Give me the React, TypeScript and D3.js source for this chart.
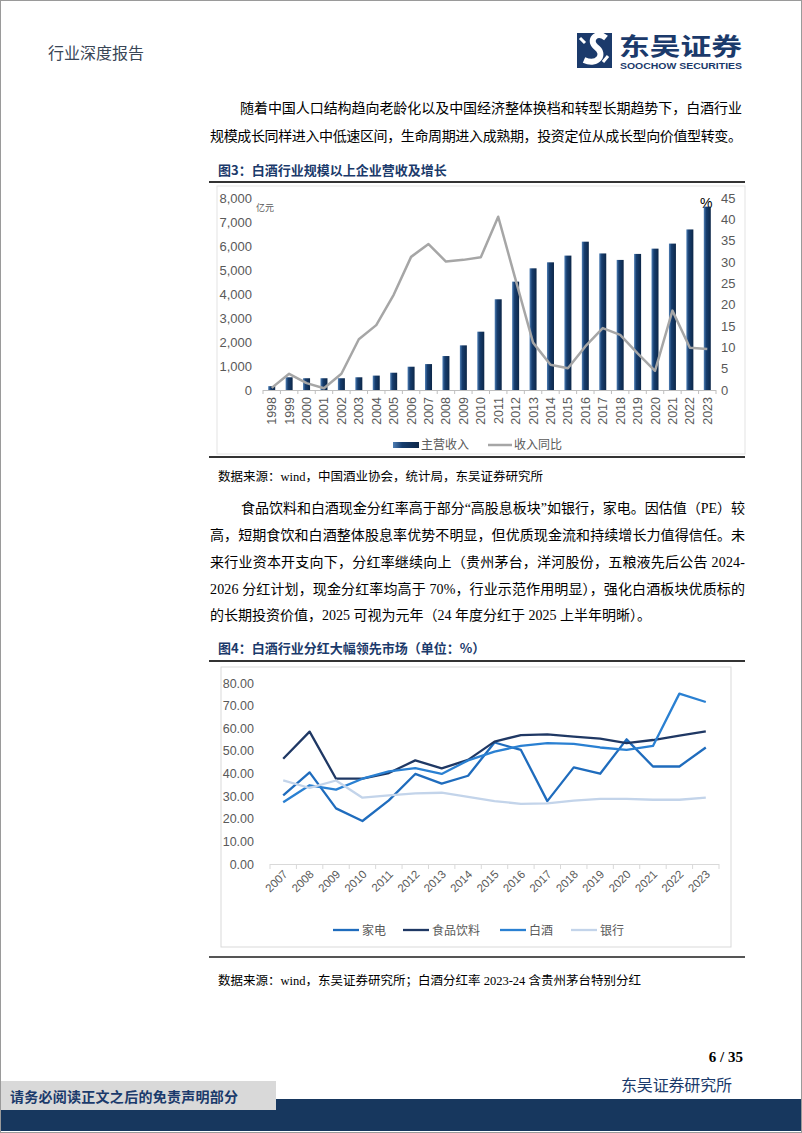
import React from 'react';
import * as d3 from 'd3';

// ---------- Data: 图3 ----------
const years3 = ['1998','1999','2000','2001','2002','2003','2004','2005','2006','2007','2008','2009','2010','2011','2012','2013','2014','2015','2016','2017','2018','2019','2020','2021','2022','2023'];
const revenue = [160, 530, 490, 490, 490, 530, 600, 720, 970, 1080, 1415, 1860, 2430, 3780, 4515, 5070, 5320, 5600, 6180, 5690, 5420, 5670, 5890, 6100, 6690, 7640];
const growth = [0.5, 3.8, 1.6, 0.4, 3.8, 11.9, 15.2, 22.3, 31.2, 34.2, 30.1, 30.5, 31.1, 40.6, 25.8, 11.1, 5.9, 5.1, 10.2, 14.5, 12.9, 8.6, 4.5, 18.6, 9.9, 9.6];
const leftTicks3 = [0, 1000, 2000, 3000, 4000, 5000, 6000, 7000, 8000];
const rightTicks3 = [0, 5, 10, 15, 20, 25, 30, 35, 40, 45];

// ---------- Data: 图4 ----------
const years4 = ['2007','2008','2009','2010','2011','2012','2013','2014','2015','2016','2017','2018','2019','2020','2021','2022','2023'];
const jiadian = [30.3, 40.5, 24.6, 19.0, 28.1, 39.8, 35.5, 39.0, 53.7, 50.4, 27.8, 42.7, 39.9, 55.1, 43.1, 43.1, 51.5];
const shipin = [46.5, 58.5, 37.7, 37.7, 40.2, 45.8, 42.3, 46.0, 54.1, 57.0, 57.3, 56.3, 55.4, 53.4, 54.8, 56.7, 58.6];
const baijiu = [27.3, 34.8, 32.9, 37.7, 40.9, 42.4, 39.8, 45.8, 49.7, 52.2, 53.4, 53.1, 51.5, 50.4, 52.2, 75.3, 71.6];
const yinhang = [37.0, 33.6, 36.9, 29.3, 30.3, 31.2, 31.5, 29.7, 27.8, 26.6, 26.8, 28.0, 28.8, 28.8, 28.4, 28.4, 29.3];
const yTicks4 = [0, 10, 20, 30, 40, 50, 60, 70, 80];
const series4 = [
  { name: '家电', values: jiadian, color: '#1f6cbd' },
  { name: '食品饮料', values: shipin, color: '#1f3864' },
  { name: '白酒', values: baijiu, color: '#2a80d2' },
  { name: '银行', values: yinhang, color: '#c3d4ea' },
];

const CJK = '"Noto Sans CJK SC", "Noto Sans CJK JP", sans-serif';
const BODY = '"Liberation Serif", "Noto Sans CJK SC", serif';
const AX = '"Liberation Sans", Arial, sans-serif';
const NAVY = '#1b3a6b';

const para1 = [
  { t: '随着中国人口结构趋向老龄化以及中国经济整体换档和转型长期趋势下，白酒行业', x: 240, y: 113, w: 502 },
  { t: '规模成长同样进入中低速区间，生命周期进入成熟期，投资定位从成长型向价值型转变。', x: 210, y: 141, w: 532 },
];
const para2 = [
  { t: '食品饮料和白酒现金分红率高于部分“高股息板块”如银行，家电。因估值（PE）较', x: 241, y: 513, w: 504 },
  { t: '高，短期食饮和白酒整体股息率优势不明显，但优质现金流和持续增长力值得信任。未', x: 210, y: 540, w: 535 },
  { t: '来行业资本开支向下，分红率继续向上（贵州茅台，洋河股份，五粮液先后公告 2024-', x: 210, y: 567, w: 535 },
  { t: '2026 分红计划，现金分红率均高于 70%，行业示范作用明显），强化白酒板块优质标的', x: 210, y: 594, w: 535 },
  { t: '的长期投资价值，2025 可视为元年（24 年度分红于 2025 上半年明晰）。', x: 210, y: 620, w: 0 },
];

function Chart3() {
  const x = d3.scaleBand<string>().domain(years3).range([263, 716]);
  const yL = d3.scaleLinear().domain([0, 8000]).range([390, 198]);
  const yR = d3.scaleLinear().domain([0, 45]).range([390, 198]);
  const cx = (i: number) => (x(years3[i]) as number) + x.bandwidth() / 2;
  const line = d3.line<number>().x((d, i) => cx(i)).y(d => yR(d));
  const bw = 7;
  return (
    <g>
      <defs>
        <linearGradient id="barg" x1="0" x2="1" y1="0" y2="0">
          <stop offset="0" stopColor="#4f7fb5" />
          <stop offset="0.35" stopColor="#163d6e" />
          <stop offset="1" stopColor="#0d2748" />
        </linearGradient>
      </defs>
      <rect x={217} y={186} width={528} height={268} fill="none" stroke="#e3e3e3" strokeWidth={1} />
      {leftTicks3.map(t => (
        <text key={'l' + t} x={252} y={yL(t) + 4.5} textAnchor="end" fontFamily={AX} fontSize={13} fill="#595959">{d3.format(',')(t)}</text>
      ))}
      {rightTicks3.map(t => (
        <text key={'r' + t} x={721} y={yR(t) + 4.5} textAnchor="start" fontFamily={AX} fontSize={13} fill="#595959">{t}</text>
      ))}
      <text x={256} y={211} fontFamily={CJK} fontSize={9} fill="#595959">亿元</text>
      <text x={700} y={208} fontFamily={AX} fontSize={14} fill="#000">%</text>
      {revenue.map((v, i) => (
        <rect key={i} x={cx(i) - bw / 2} y={yL(v)} width={bw} height={yL(0) - yL(v)} fill="url(#barg)" />
      ))}
      <line x1={263} x2={716} y1={390.5} y2={390.5} stroke="#bfbfbf" />
      {d3.range(years3.length + 1).map(i => {
        const xx = 263 + i * x.bandwidth();
        return <line key={'t' + i} x1={xx} x2={xx} y1={390} y2={394} stroke="#bfbfbf" />;
      })}
      <path d={line(growth) || ''} fill="none" stroke="#a6a6a6" strokeWidth={2.5} strokeLinejoin="round" />
      {years3.map((yr, i) => (
        <text key={yr} transform={`translate(${cx(i) + 4.5},397) rotate(-90)`} textAnchor="end" fontFamily={AX} fontSize={12.5} fill="#595959">{yr}</text>
      ))}
      <rect x={393} y={442} width={26} height={6} fill="url(#barg)" />
      <text x={421} y={449} fontFamily={CJK} fontSize={12} fill="#595959">主营收入</text>
      <line x1={488} x2={512} y1={445} y2={445} stroke="#a6a6a6" strokeWidth={2.5} />
      <text x={514} y={449} fontFamily={CJK} fontSize={12} fill="#595959">收入同比</text>
    </g>
  );
}

function Chart4() {
  const x = d3.scaleBand<string>().domain(years4).range([270, 719]);
  const y = d3.scaleLinear().domain([0, 80]).range([864, 683]);
  const cx = (i: number) => (x(years4[i]) as number) + x.bandwidth() / 2;
  const line = d3.line<number>().x((d, i) => cx(i)).y(d => y(d));
  const legendX = [333, 403, 500, 571];
  return (
    <g>
      <rect x={221} y={667} width={510} height={280} fill="none" stroke="#d9d9d9" strokeWidth={1} />
      {yTicks4.map(t => (
        <text key={t} x={254} y={y(t) + 4.5} textAnchor="end" fontFamily={AX} fontSize={12.5} fill="#595959">{d3.format('.2f')(t)}</text>
      ))}
      <line x1={270} x2={719} y1={864.5} y2={864.5} stroke="#d9d9d9" />
      {d3.range(years4.length + 1).map(i => {
        const xx = 270 + i * x.bandwidth();
        return <line key={'t' + i} x1={xx} x2={xx} y1={864} y2={869} stroke="#d9d9d9" />;
      })}
      {series4.map(s => (
        <path key={s.name} d={line(s.values) || ''} fill="none" stroke={s.color} strokeWidth={2.3} strokeLinejoin="round" />
      ))}
      {years4.map((yr, i) => (
        <text key={yr} transform={`translate(${cx(i) + 5},875) rotate(-45)`} textAnchor="end" fontFamily={AX} fontSize={11.5} fill="#595959">{yr}</text>
      ))}
      {series4.map((s, i) => (
        <g key={'lg' + s.name}>
          <line x1={legendX[i]} x2={legendX[i] + 26} y1={930} y2={930} stroke={s.color} strokeWidth={2.3} />
          <text x={legendX[i] + 29} y={934.5} fontFamily={CJK} fontSize={12} fill="#595959">{s.name}</text>
        </g>
      ))}
    </g>
  );
}

export default function App() {
  return (
    <div style={{ position: 'absolute', left: 0, top: 0 }}>
      <svg width={802} height={1133} viewBox="0 0 802 1133" style={{ display: 'block', background: '#fff' }}>
        <rect x={0.5} y={0.5} width={801} height={1132} fill="#fff" stroke="#9a9a9a" />
        {/* header */}
        <text x={48} y={59} fontFamily={CJK} fontSize={16} fill="#3a4656">行业深度报告</text>
        <rect x={577} y={33} width={35} height={35} fill={NAVY} />
        <path d="M584,60 C598,66 606,54 596,47 C588,41 596,30 606,38" fill="none" stroke="#fff" strokeWidth={6} strokeLinecap="butt" />
        <path d="M603,62 L608,56 M580,38 L585,43" stroke="#fff" strokeWidth={3} />
        <text x={619} y={55} fontFamily={CJK} fontSize={24} fontWeight={700} fill={NAVY} textLength={123} lengthAdjust="spacingAndGlyphs">东吴证券</text>
        <text x={620} y={69} fontFamily={AX} fontSize={8.5} fontWeight={700} fill={NAVY} textLength={122} lengthAdjust="spacingAndGlyphs">SOOCHOW SECURITIES</text>

        {para1.map((l, i) => (
          <text key={'p1' + i} x={l.x} y={l.y} fontFamily={BODY} fontSize={14} fill="#000" textLength={l.w || undefined} lengthAdjust="spacing">{l.t}</text>
        ))}

        <text x={218} y={175} fontFamily={CJK} fontSize={13} fontWeight={700} fill={NAVY}>图3：白酒行业规模以上企业营收及增长</text>
        <line x1={209} x2={745} y1={182} y2={182} stroke="#333" strokeWidth={1.8} />
        <Chart3 />
        <line x1={209} x2={745} y1={457} y2={457} stroke="#333" strokeWidth={1.8} />
        <text x={218} y={481} fontFamily={BODY} fontSize={12.5} fill="#000">数据来源：wind，中国酒业协会，统计局，东吴证券研究所</text>

        {para2.map((l, i) => (
          <text key={'p2' + i} x={l.x} y={l.y} fontFamily={BODY} fontSize={14} fill="#000" textLength={l.w || undefined} lengthAdjust="spacing">{l.t}</text>
        ))}

        <text x={218} y={653} fontFamily={CJK} fontSize={13} fontWeight={700} fill={NAVY}>图4：白酒行业分红大幅领先市场（单位：%）</text>
        <line x1={209} x2={745} y1={661} y2={661} stroke="#333" strokeWidth={1.8} />
        <Chart4 />
        <line x1={209} x2={745} y1={957} y2={957} stroke="#555" strokeWidth={1.8} />
        <text x={218} y={985} fontFamily={BODY} fontSize={12.5} fill="#000">数据来源：wind，东吴证券研究所；白酒分红率 2023-24 含贵州茅台特别分红</text>

        {/* footer */}
        <text x={743} y={1062} textAnchor="end" fontFamily={BODY} fontSize={15} fontWeight={700} fill="#000">6 / 35</text>
        <text x={621} y={1091} fontFamily={CJK} fontSize={16} fill={NAVY} textLength={111} lengthAdjust="spacing">东吴证券研究所</text>
        <rect x={1} y={1099} width={800} height={32} fill="#17375e" />
        <rect x={1} y={1081} width={275} height={29} fill="#d9d9d9" />
        <text x={10} y={1102} fontFamily={CJK} fontSize={14} fontWeight={700} fill={NAVY} textLength={228} lengthAdjust="spacing">请务必阅读正文之后的免责声明部分</text>
      </svg>
    </div>
  );
}
